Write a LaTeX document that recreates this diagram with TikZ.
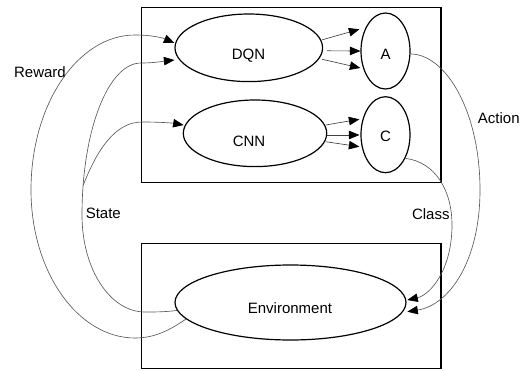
\documentclass[tikz,border=0pt]{standalone}
\usepackage{fontspec}
\setmainfont{Liberation Sans}
\usetikzlibrary{arrows.meta,shapes.geometric,calc}
\begin{document}
\begin{tikzpicture}[x=1pt,y=-1pt,
  panel/.style={draw,line width=1.1pt,inner sep=0pt},
  blob/.style={draw,ellipse,line width=1.2pt,inner sep=0pt},
  txt/.style={font=\fontsize{15}{18}\selectfont,inner sep=0pt},
  tip/.style={-{Triangle[length=10.5pt,width=8.5pt,fill=black,color=black]}},
  link/.style={draw=black!75,line width=0.65pt,tip},
  feed/.style={draw=black!65,line width=0.65pt,tip},
]
\useasboundingbox (0,0) rectangle (520,370);

% agent and environment panels
\node[panel,minimum width=299.5pt,minimum height=175pt] (agent) at (291.25,95.1) {};
\node[panel,minimum width=299.5pt,minimum height=125.4pt] (world) at (291.25,306) {};

% networks and their outputs
\node[blob,minimum width=147.6pt,minimum height=67.6pt] (dqn) at (248.8,47.8) {};
\node[blob,minimum width=143.4pt,minimum height=66.6pt] (cnn) at (255,133.3) {};
\node[blob,minimum width=49pt,minimum height=76pt] (a) at (385.5,51) {};
\node[blob,minimum width=49pt,minimum height=76pt] (c) at (385.5,134.7) {};
\node[blob,minimum width=231pt,minimum height=75pt] (env) at (290.5,302.5) {};

\node[txt] (dqnt) at (248.5,56) {DQN};
\node[txt] (cnnt) at (249,141.5) {CNN};
\node[txt] (at) at (385.5,54) {A};
\node[txt] (ct) at (385.5,136) {C};
\node[txt] (envt) at (290,308) {Environment};

% network outputs
\draw[link] ($(dqn.east)+(-1,-8)$) -- ($(a.west)+(-1,-21.7)$);
\draw[link] ($(dqn.east)+(4,3)$) -- ($(a.west)+(0,0)$);
\draw[link] ($(dqn.east)+(-1,11.5)$) -- ($(a.west)+(0,17)$);
\draw[link] ($(cnn.east)+(-1.7,-8.3)$) -- ($(c.west)+(-1,-15.4)$);
\draw[link] ($(cnn.east)+(0,1.7)$) -- ($(c.west)+(-1,0.3)$);
\draw[link] ($(cnn.east)+(-1.7,8.4)$) -- ($(c.west)+(-1,12)$);

% reward loop
\draw[feed] (env.189) .. controls (170,330) and (155,338) .. (135,338)
  .. controls (78,338) and (31,272) .. (31,190)
  .. controls (31,104) and (78,35) .. (135,35)
  .. controls (152,35) and (163,38) .. ($(dqn.west)+(0,-4.8)$);

% state loop
\draw[feed] (env.184) .. controls (165,312) and (155,312) .. (145,312)
  .. controls (110,312) and (82,269) .. (82,215)
  .. controls (82,131) and (108,63) .. coordinate[pos=0.12] (fork) (141,63)
  .. controls (155,63) and (165,61) .. ($(dqn.west)+(0,12.2)$);
\draw[feed] (fork) .. controls (97,150) and (115,122) .. (142,122)
  .. controls (160,122) and (172,123) .. ($(cnn.west)+(0.9,-8.3)$);

% action and class back to the environment
\draw[feed] ($(a.east)+(0,3)$) .. controls (445,54) and (480,110) .. (480,190)
  .. controls (480,260) and (450,305) .. ($(env.east)+(0.7,9.2)$);
\draw[feed] (c.-50) .. controls (435,162) and (452,190) .. (452,225)
  .. controls (452,270) and (430,295) .. ($(env.east)+(0.7,-2.5)$);

% loop labels
\node[txt] (rw) at (40,71.7) {Reward};
\node[txt] (act) at (498.8,118.3) {Action};
\node[txt] (st) at (103.3,213.3) {State};
\node[txt] (cl) at (430.8,213.8) {Class};
\end{tikzpicture}
\end{document}
